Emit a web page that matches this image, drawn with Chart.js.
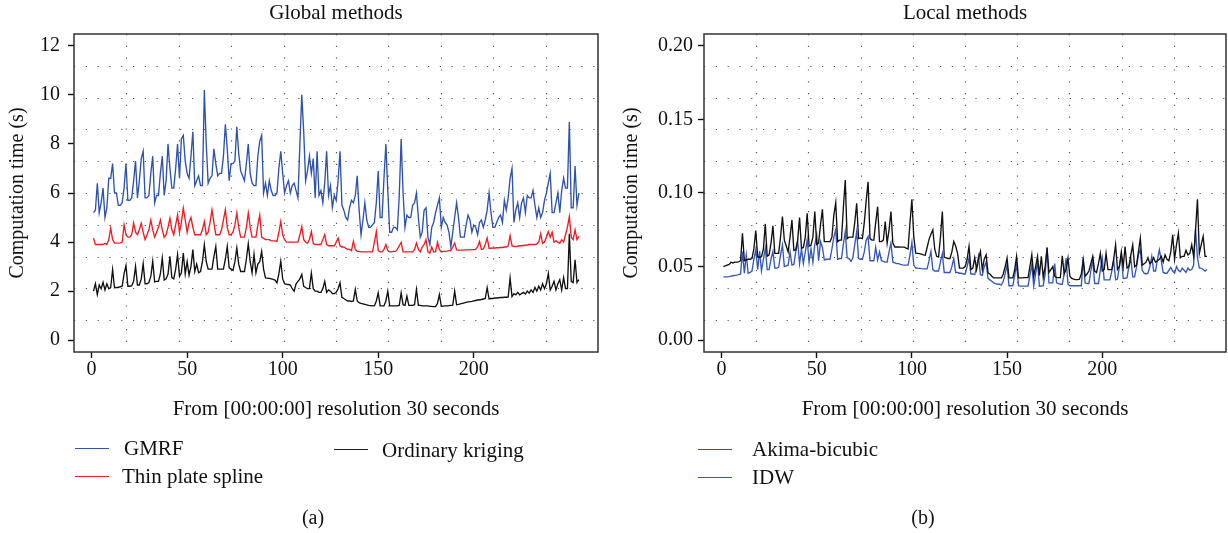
<!DOCTYPE html>
<html>
<head>
<meta charset="utf-8">
<script src="https://cdn.jsdelivr.net/npm/chart.js@4.4.1/dist/chart.umd.min.js"></script>
<style>
  body { margin: 0; background: #fff; }
  #page { position: relative; width: 1228px; height: 533px; font-family: "Liberation Serif", serif; color: #111; }
  canvas { position: absolute; top: 0; }
  .label { position: absolute; white-space: nowrap; line-height: 24px; }
  .title { font-size: 21px; transform: translateX(-50%); }
  .caption { font-size: 20px; transform: translateX(-50%); }
  .legend { font-size: 21px; }
  .swatch { position: absolute; width: 34px; height: 0; border-top: 1.5px solid; }
</style>
</head>
<body>
<div id="page">
  <canvas id="globalChart" width="614" height="533" style="left:0"></canvas>
  <canvas id="localChart" width="614" height="533" style="left:614px"></canvas>

  <div class="label title" style="left:336px; top:0px">Global methods</div>
  <div class="label title" style="left:965px; top:0px">Local methods</div>

  <div class="swatch" style="left:75px; top:448px; border-color:#2f52ab"></div>
  <div class="label legend" style="left:124px; top:436px">GMRF</div>
  <div class="swatch" style="left:75px; top:476px; border-color:#ee1c25"></div>
  <div class="label legend" style="left:122px; top:464px">Thin plate spline</div>
  <div class="swatch" style="left:334px; top:449px; border-color:#222"></div>
  <div class="label legend" style="left:382px; top:438px">Ordinary kriging</div>

  <div class="swatch" style="left:698px; top:449px; border-color:#6b4838"></div>
  <div class="label legend" style="left:752px; top:437px">Akima-bicubic</div>
  <div class="swatch" style="left:698px; top:477px; border-color:#3558b8"></div>
  <div class="label legend" style="left:752px; top:465px">IDW</div>

  <div class="label caption" style="left:313px; top:505px">(a)</div>
  <div class="label caption" style="left:923px; top:505px">(b)</div>
</div>

<script>
// time index, one sample every 30 seconds
const timeSteps = Array.from({ length: 255 }, (_, i) => i + 1);

// Global methods (s)
const gmrf = [
  5.2, 5.3, 6.4, 5.2, 5.6, 6.2, 5.0, 5.4, 6.6, 6.6,
  7.2, 6.0, 6.0, 5.5, 5.5, 5.6, 6.2, 7.2, 5.7, 5.7,
  5.8, 6.5, 7.3, 5.8, 6.5, 7.4, 7.7, 5.8, 5.8, 5.9,
  6.8, 7.5, 5.6, 5.9, 5.9, 6.8, 7.5, 5.9, 6.5, 8.0,
  7.0, 6.2, 6.2, 7.0, 8.0, 6.6, 8.2, 8.35, 7.3, 6.8,
  6.6, 7.5, 8.5, 6.3, 6.5, 6.7, 6.3, 6.3, 10.2, 8.0,
  6.4, 6.6, 6.7, 7.8, 7.2, 6.7, 6.8, 6.8, 7.5, 8.8,
  7.8, 6.5, 7.2, 7.2, 7.3, 8.7, 7.6, 6.9, 6.7, 6.5,
  7.2, 8.0, 6.8, 6.4, 6.3, 6.3, 7.5, 8.1, 8.35, 6.0,
  6.4, 5.9, 6.5, 6.1, 5.9, 5.9, 6.0, 7.0, 7.7, 6.8,
  6.0, 6.3, 6.5, 6.0, 6.3, 6.4, 6.1, 5.8, 8.0, 10.0,
  8.5, 6.5, 6.9, 7.5, 6.8, 7.4, 5.8, 7.7, 5.9, 6.1,
  5.6, 6.4, 7.7, 5.9, 6.3, 5.4, 5.9, 5.7, 6.5, 7.7,
  5.5, 5.3, 5.0, 4.9, 5.4, 5.7, 5.6, 5.9, 6.7, 5.3,
  4.3, 4.9, 5.6, 4.9, 4.6, 4.6, 4.7, 4.8, 5.6, 6.9,
  5.0, 5.0, 6.6, 8.0, 6.1, 4.4, 4.4, 4.6, 4.6, 4.5,
  5.9, 8.2, 6.0, 4.6, 5.1, 5.0, 5.0, 5.5, 5.6, 6.0,
  5.0, 4.2, 4.4, 5.3, 5.4, 4.2, 3.9, 4.6, 4.8, 5.2,
  5.5, 5.8, 4.6, 5.0, 4.8, 4.7, 4.4, 3.8, 4.4, 5.0,
  5.6, 5.0, 4.2, 4.2, 4.2, 4.7, 5.1, 4.9, 4.4, 4.7,
  4.6, 4.3, 4.8, 4.9, 4.6, 4.9, 5.3, 6.0, 5.2, 4.6,
  4.6, 4.8, 5.0, 5.1, 4.8, 5.7, 5.3, 5.8, 6.6, 7.0,
  4.8, 5.3, 5.6, 5.0, 5.6, 5.8, 5.2, 5.9, 5.8, 5.8,
  6.1, 5.5, 5.0, 5.4, 5.0, 5.2, 5.7, 6.0, 6.4, 6.8,
  5.2, 5.2, 5.6, 6.0, 5.2, 6.1, 6.6, 6.2, 6.2, 8.9,
  5.4, 5.4, 7.1, 5.5, 6.0
];

const thinPlate = [
  4.16, 3.9, 3.9, 3.9, 3.9, 3.9, 3.95, 3.9, 4.1, 4.57,
  4.1, 3.96, 3.96, 3.96, 3.97, 4.0, 4.7, 4.3, 4.2, 4.2,
  4.3, 4.77, 4.4, 4.3, 4.5, 4.77, 4.4, 4.1, 4.3, 4.5,
  4.9, 4.5, 4.2, 4.4, 4.6, 4.9, 4.5, 4.2, 4.3, 4.6,
  4.97, 4.5, 4.3, 4.7, 5.11, 4.4, 4.8, 5.38, 4.9, 4.4,
  4.8, 5.0, 4.6, 4.3, 4.3, 4.3, 4.3, 4.5, 4.84, 4.3,
  4.4, 4.8, 5.31, 4.8, 4.3, 4.3, 4.3, 4.5, 4.9, 5.31,
  4.6, 4.3, 4.3, 4.4, 4.7, 5.18, 4.6, 4.2, 4.2, 4.2,
  4.6, 5.18, 4.6, 4.2, 4.2, 4.2, 4.7, 5.1, 4.2, 4.15,
  4.1, 4.1, 4.1, 4.05, 4.05, 4.05, 4.03, 4.4, 4.84, 4.3,
  4.1, 4.0, 4.0, 4.0, 4.0, 4.0, 4.0, 4.0, 4.3, 4.63,
  4.1, 4.0, 3.95, 4.1, 4.43, 3.95, 3.9, 3.9, 3.9, 3.9,
  4.1, 4.3, 3.9, 3.85, 3.85, 3.85, 3.85, 4.0, 4.16, 3.85,
  3.8, 3.8, 3.75, 3.7, 3.7, 3.65, 4.03, 3.7, 3.62, 3.62,
  3.6, 3.6, 3.6, 3.6, 3.6, 3.6, 3.6, 4.0, 4.43, 3.65,
  3.6, 3.6, 3.7, 3.9, 3.65, 3.6, 3.6, 3.62, 3.62, 3.7,
  3.85, 3.99, 3.6, 3.6, 3.6, 3.6, 3.6, 3.6, 3.7, 3.96,
  3.7, 3.6, 3.8, 3.9, 4.1, 3.6, 3.55, 3.8, 3.6, 3.6,
  3.99, 3.7, 3.6, 3.62, 3.62, 3.63, 3.65, 3.65, 3.8, 3.96,
  3.68, 3.67, 3.67, 3.67, 3.68, 3.68, 3.68, 3.68, 3.69, 3.69,
  3.7, 3.8, 4.03, 3.7, 3.72, 3.9, 4.16, 3.75, 3.75, 3.76,
  3.76, 3.77, 3.77, 3.78, 3.78, 3.8, 3.8, 3.85, 4.26, 3.85,
  3.82, 3.82, 3.83, 3.85, 3.85, 3.86, 3.87, 3.88, 3.9, 3.9,
  3.9, 3.9, 3.92, 4.0, 4.34, 3.95, 4.0, 4.2, 4.43, 4.2,
  4.4, 4.0, 4.05, 4.0, 3.95, 4.1, 4.0, 4.3, 4.6, 5.04,
  4.2, 4.1, 4.5, 4.1, 4.23
];

const ordinaryKriging = [
  2.0, 2.3, 1.86, 2.25, 2.1, 2.36, 2.05, 2.3, 2.1, 2.15,
  2.88, 2.14, 2.15, 2.15, 2.18, 2.2, 2.7, 3.04, 2.2, 2.2,
  2.22, 2.4, 3.01, 2.25, 2.25, 2.5, 3.12, 2.3, 2.3, 2.35,
  2.6, 3.22, 2.38, 2.4, 2.4, 2.7, 3.35, 2.45, 2.5, 2.7,
  3.42, 2.55, 2.5, 2.9, 3.49, 2.6, 2.75, 3.55, 2.7, 3.2,
  2.65, 3.0, 3.69, 2.8, 3.1, 2.75, 2.8, 3.2, 3.89, 3.2,
  2.9, 2.9, 2.9, 3.4, 3.82, 2.9, 2.9, 2.9, 2.9, 3.3,
  3.82, 2.95, 2.9, 2.85, 3.2, 3.76, 3.1, 2.8, 2.8, 2.8,
  3.3, 3.93, 3.2, 2.75, 3.5, 2.75, 3.1, 3.2, 3.62, 2.9,
  2.54, 2.53, 2.52, 2.5, 2.48, 2.45, 2.34, 2.7, 3.22, 2.5,
  2.3, 2.28, 2.27, 2.25, 2.1, 2.0, 2.3, 2.4, 2.5, 2.68,
  2.2, 2.15, 2.1, 2.1, 2.74, 2.1, 2.0, 2.0, 1.95, 1.95,
  2.1, 2.4, 1.95, 2.05, 2.0, 1.9, 1.9, 1.95, 2.1, 2.34,
  1.75, 1.7, 1.65, 1.6, 1.6, 1.58, 1.6, 2.07, 1.6, 1.53,
  1.5, 1.48, 1.46, 1.44, 1.42, 1.41, 1.4, 1.4, 1.6, 1.93,
  1.4, 1.4, 1.4, 1.6, 2.0, 1.4, 1.4, 1.4, 1.4, 1.4,
  1.42, 1.93, 1.45, 1.42, 1.8, 1.42, 1.42, 1.42, 1.45, 2.07,
  1.42, 1.42, 1.4, 1.4, 1.4, 1.4, 1.38, 1.38, 1.37, 1.37,
  1.5, 1.86, 1.38, 1.39, 1.4, 1.4, 1.41, 1.42, 1.43, 2.0,
  1.45, 1.46, 1.48, 1.5, 1.52, 1.54, 1.56, 1.57, 1.58, 1.6,
  1.62, 1.64, 1.65, 1.66, 1.68, 1.7, 2.14, 1.68, 1.7, 1.7,
  1.72, 1.72, 1.73, 1.74, 1.74, 1.75, 1.75, 1.76, 2.54, 1.78,
  1.9, 1.85, 1.95, 1.85, 1.9, 1.95, 1.88, 2.0, 1.92, 2.05,
  1.95, 2.15, 2.0, 2.2, 2.05, 2.3, 2.1, 2.3, 2.72, 2.05,
  2.2, 2.4, 2.05, 2.3, 2.47, 2.05, 2.55, 2.1, 2.1, 4.34,
  2.4, 2.35, 3.28, 2.35, 2.47
];

// Local methods (s)
const akimaBicubic = [
  0.050, 0.0505, 0.051, 0.0515, 0.053, 0.0525, 0.053, 0.053, 0.0532, 0.054,
  0.0727, 0.054, 0.0545, 0.055, 0.055, 0.0555, 0.062, 0.0745, 0.0565, 0.0565,
  0.0567, 0.062, 0.079, 0.057, 0.058, 0.066, 0.0777, 0.059, 0.059, 0.059,
  0.07, 0.084, 0.068, 0.064, 0.06, 0.07, 0.0817, 0.061, 0.0615, 0.068,
  0.0833, 0.0625, 0.063, 0.07, 0.0862, 0.064, 0.0645, 0.07, 0.0874, 0.065,
  0.066, 0.0785, 0.0889, 0.067, 0.067, 0.067, 0.067, 0.07, 0.085, 0.0934,
  0.067, 0.068, 0.068, 0.09, 0.1088, 0.069, 0.07, 0.07, 0.07, 0.08,
  0.093, 0.069, 0.0695, 0.069, 0.08, 0.095, 0.1076, 0.069, 0.068, 0.068,
  0.08, 0.0907, 0.067, 0.067, 0.068, 0.0806, 0.066, 0.075, 0.0874, 0.066,
  0.0633, 0.0633, 0.0633, 0.0632, 0.0632, 0.0632, 0.0625, 0.062, 0.08, 0.0957,
  0.07, 0.0592, 0.059, 0.0588, 0.0585, 0.058, 0.0578, 0.063, 0.0685, 0.072,
  0.075, 0.062, 0.057, 0.0565, 0.07, 0.0874, 0.0565, 0.056, 0.0555, 0.0555,
  0.06, 0.067, 0.064, 0.059, 0.049, 0.049, 0.049, 0.05, 0.055, 0.0637,
  0.048, 0.049, 0.056, 0.048, 0.055, 0.0603, 0.048, 0.055, 0.058, 0.0457,
  0.045, 0.0435, 0.0423, 0.0423, 0.0423, 0.0423, 0.0423, 0.045, 0.05, 0.0558,
  0.0423, 0.0423, 0.0423, 0.048, 0.057, 0.0423, 0.0423, 0.0423, 0.0425, 0.0425,
  0.0425, 0.05, 0.0581, 0.0435, 0.05, 0.057, 0.044, 0.057, 0.0425, 0.05,
  0.0626, 0.046, 0.048, 0.05, 0.0435, 0.0425, 0.0425, 0.0425, 0.0574, 0.045,
  0.048, 0.0558, 0.0434, 0.042, 0.0415, 0.0412, 0.0412, 0.0415, 0.045, 0.0547,
  0.0435, 0.045, 0.047, 0.052, 0.057, 0.047, 0.046, 0.052, 0.059, 0.047,
  0.048, 0.059, 0.048, 0.048, 0.048, 0.055, 0.0648, 0.048, 0.05, 0.06,
  0.05, 0.0637, 0.049, 0.05, 0.058, 0.0648, 0.05, 0.051, 0.06, 0.0693,
  0.051, 0.052, 0.053, 0.056, 0.052, 0.053, 0.056, 0.053, 0.054, 0.055,
  0.057, 0.053, 0.058, 0.055, 0.054, 0.06, 0.0716, 0.055, 0.065, 0.0727,
  0.056, 0.057, 0.057, 0.061, 0.058, 0.059, 0.0648, 0.057, 0.075, 0.0957,
  0.059, 0.065, 0.0705, 0.057, 0.057
];

const idw = [
  0.043, 0.043, 0.043, 0.0432, 0.0435, 0.0438, 0.044, 0.0442, 0.0445, 0.045,
  0.0603, 0.0455, 0.058, 0.0455, 0.046, 0.047, 0.055, 0.0615, 0.048, 0.0605,
  0.047, 0.055, 0.0626, 0.048, 0.048, 0.055, 0.0603, 0.049, 0.049, 0.0495,
  0.058, 0.0648, 0.05, 0.0505, 0.051, 0.06, 0.051, 0.0515, 0.06, 0.0671,
  0.052, 0.062, 0.052, 0.06, 0.0682, 0.053, 0.062, 0.053, 0.065, 0.0716,
  0.054, 0.067, 0.063, 0.0545, 0.055, 0.055, 0.055, 0.062, 0.07, 0.075,
  0.055, 0.0555, 0.0555, 0.065, 0.0738, 0.056, 0.0555, 0.0535, 0.056, 0.065,
  0.0738, 0.0555, 0.055, 0.055, 0.06, 0.068, 0.0705, 0.054, 0.054, 0.054,
  0.063, 0.0545, 0.06, 0.054, 0.0536, 0.053, 0.053, 0.06, 0.066, 0.053,
  0.0525, 0.052, 0.052, 0.0515, 0.0512, 0.051, 0.051, 0.051, 0.058, 0.0664,
  0.051, 0.049, 0.049, 0.0488, 0.0486, 0.0485, 0.0485, 0.0485, 0.054, 0.0603,
  0.048, 0.047, 0.047, 0.047, 0.053, 0.0588, 0.046, 0.046, 0.046, 0.046,
  0.05, 0.0555, 0.046, 0.046, 0.0455, 0.0455, 0.045, 0.045, 0.05, 0.0558,
  0.045, 0.045, 0.0445, 0.05, 0.057, 0.0445, 0.044, 0.05, 0.053, 0.042,
  0.041, 0.04, 0.039, 0.0385, 0.038, 0.038, 0.0375, 0.04, 0.045, 0.0514,
  0.037, 0.037, 0.037, 0.044, 0.0514, 0.037, 0.0367, 0.0367, 0.0367, 0.0367,
  0.0367, 0.044, 0.0514, 0.0367, 0.045, 0.053, 0.0367, 0.0368, 0.037, 0.045,
  0.0633, 0.039, 0.039, 0.039, 0.052, 0.039, 0.0385, 0.038, 0.038, 0.045,
  0.0558, 0.038, 0.037, 0.037, 0.037, 0.037, 0.037, 0.037, 0.037, 0.0558,
  0.039, 0.0385, 0.0385, 0.047, 0.0545, 0.0385, 0.0385, 0.0385, 0.048, 0.0558,
  0.041, 0.041, 0.041, 0.041, 0.047, 0.0545, 0.041, 0.0415, 0.05, 0.0581,
  0.042, 0.042, 0.0425, 0.05, 0.0558, 0.043, 0.043, 0.05, 0.058, 0.0615,
  0.0475, 0.0455, 0.045, 0.0455, 0.05, 0.057, 0.047, 0.047, 0.055, 0.0615,
  0.054, 0.046, 0.0455, 0.0455, 0.0475, 0.0495, 0.047, 0.0455, 0.05, 0.0475,
  0.0465, 0.049, 0.0475, 0.046, 0.049, 0.0475, 0.048, 0.051, 0.0754, 0.056,
  0.049, 0.049, 0.048, 0.047, 0.048
];

const xTicks = [0, 50, 100, 150, 200];
const globalTicks = [0, 2, 4, 6, 8, 10, 12];
const localTicks = [0, 0.05, 0.1, 0.15, 0.2];

const serif = "'Liberation Serif', serif";

// R style grid: dotted lines splitting the plot region in 10 x 10 cells, plus frame
const plotFrame = {
  id: "plotFrame",
  beforeDatasetsDraw(chart) {
    const { ctx, chartArea } = chart;
    const { left, right, top, bottom } = chartArea;
    ctx.save();
    ctx.strokeStyle = "#555";
    ctx.lineWidth = 1.2;
    ctx.setLineDash([1.2, 10.6]);
    for (let k = 1; k < 10; k++) {
      const x = Math.round(left + ((right - left) * k) / 10) + 0.5;
      const y = Math.round(top + ((bottom - top) * k) / 10) + 0.5;
      ctx.beginPath();
      ctx.moveTo(x, top);
      ctx.lineTo(x, bottom);
      ctx.stroke();
      ctx.beginPath();
      ctx.moveTo(left, y);
      ctx.lineTo(right, y);
      ctx.stroke();
    }
    ctx.restore();
  },
  afterDraw(chart) {
    const { ctx, chartArea } = chart;
    ctx.save();
    ctx.strokeStyle = "#333";
    ctx.lineWidth = 1.5;
    ctx.strokeRect(chartArea.left, chartArea.top, chartArea.right - chartArea.left, chartArea.bottom - chartArea.top);
    ctx.restore();
  },
};

function makePanel(canvasId, cfg) {
  const ctx = document.getElementById(canvasId).getContext("2d");

  return new Chart(ctx, {
    type: "line",
    data: {
      labels: timeSteps,
      datasets: cfg.datasets.map((d) => ({
        label: d.label,
        data: d.data,
        borderColor: d.color,
        borderWidth: 1.35,
        pointRadius: 0,
        tension: 0,
        fill: false,
      })),
    },
    options: {
      responsive: false,
      animation: false,
      layout: { padding: { left: 0, top: 34, right: cfg.padRight, bottom: 107 } },
      plugins: {
        legend: { display: false },
        tooltip: { enabled: false },
      },
      scales: {
        x: {
          type: "linear",
          min: -9.2,
          max: 265,
          afterBuildTicks: (s) => {
            s.ticks = xTicks.map((v) => ({ value: v }));
          },
          afterFit: (s) => {
            s.height = 74;
          },
          ticks: { font: { family: serif, size: 20 }, color: "#111", padding: 0, maxRotation: 0 },
          grid: { drawOnChartArea: false, drawTicks: true, tickLength: 6, color: "#111", tickWidth: 1.4 },
          border: { display: false },
          title: {
            display: true,
            text: "From [00:00:00] resolution 30 seconds",
            font: { family: serif, size: 21 },
            color: "#111",
            padding: { top: 4, bottom: 4 },
          },
        },
        y: {
          min: cfg.yMin,
          max: cfg.yMax,
          afterBuildTicks: (s) => {
            s.ticks = cfg.yTicks.map((v) => ({ value: v }));
          },
          afterFit: (s) => {
            s.width = cfg.axisWidth;
          },
          ticks: {
            font: { family: serif, size: 20 },
            color: "#111",
            padding: cfg.tickPad,
            callback: cfg.tickFormat,
          },
          grid: { drawOnChartArea: false, drawTicks: true, tickLength: 6, color: "#111", tickWidth: 1.4 },
          border: { display: false },
          title: {
            display: true,
            text: "Computation time (s)",
            font: { family: serif, size: 20 },
            color: "#111",
            padding: { top: 6, bottom: 4 },
          },
        },
      },
    },
    plugins: [plotFrame],
  });
}

document.addEventListener("DOMContentLoaded", () => {
  makePanel("globalChart", {
    axisWidth: 74,
    padRight: 16,
    tickPad: 8,
    yMin: -0.48,
    yMax: 12.48,
    yTicks: globalTicks,
    tickFormat: (v) => String(v),
    datasets: [
      { label: "GMRF", data: gmrf, color: "#2f52ab" },
      { label: "Thin plate spline", data: thinPlate, color: "#ee1c25" },
      { label: "Ordinary kriging", data: ordinaryKriging, color: "#111" },
    ],
  });

  makePanel("localChart", {
    axisWidth: 90,
    padRight: 2,
    tickPad: 5,
    yMin: -0.008,
    yMax: 0.208,
    yTicks: localTicks,
    tickFormat: (v) => v.toFixed(2),
    datasets: [
      { label: "Akima-bicubic", data: akimaBicubic, color: "#111" },
      { label: "IDW", data: idw, color: "#3558b8" },
    ],
  });
});
</script>
</body>
</html>
